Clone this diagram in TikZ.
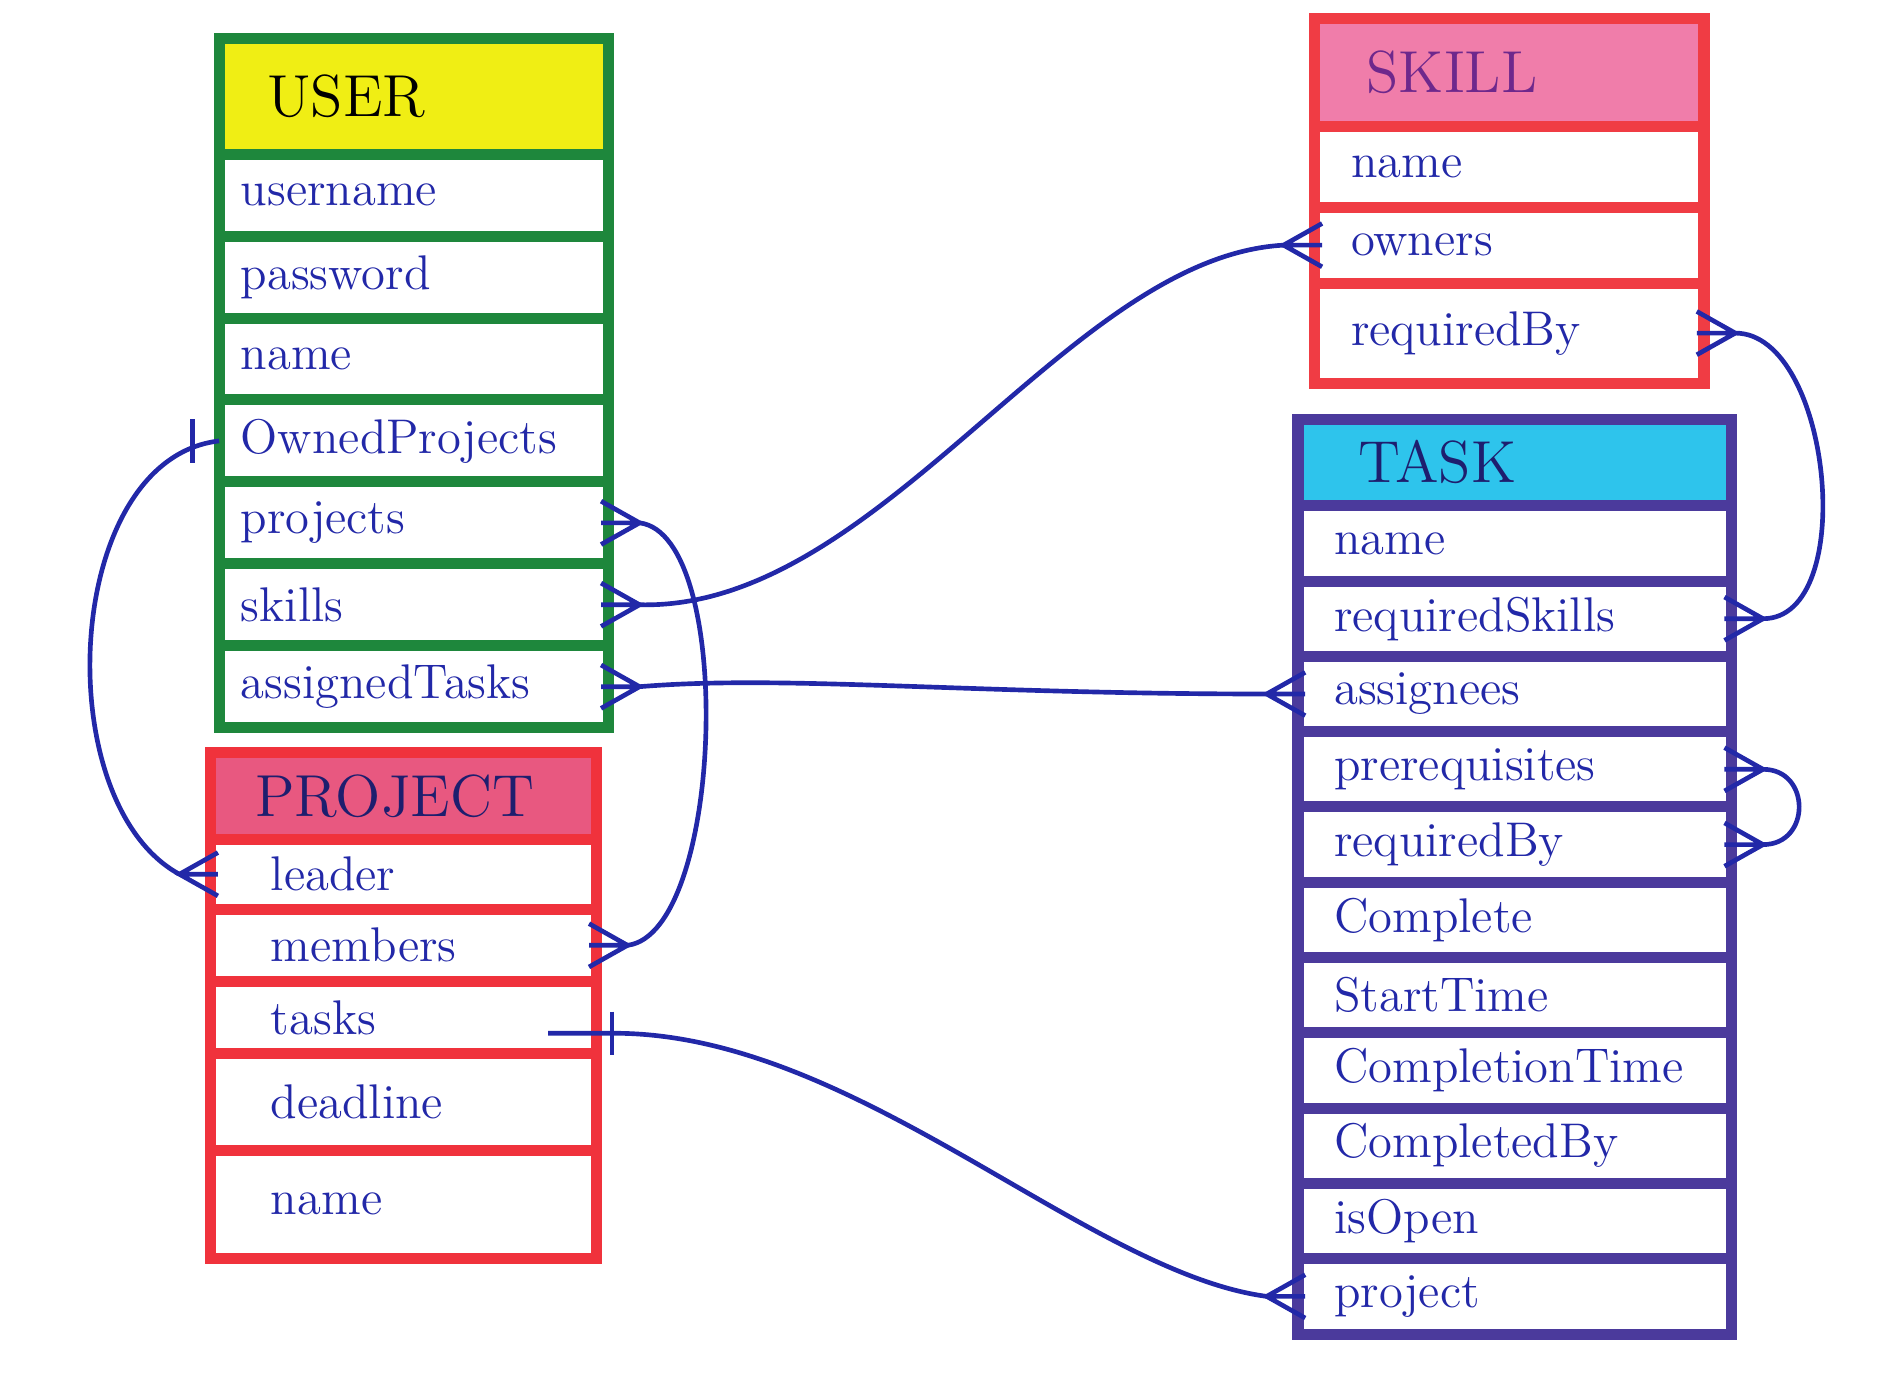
\documentclass[tikz,border=0pt]{standalone}
\usepackage{tikz}
\usetikzlibrary{positioning}

\definecolor{ink}{RGB}{34,40,168}
\definecolor{navy}{RGB}{30,30,110}
\definecolor{usergreen}{RGB}{30,135,60}
\definecolor{useryellow}{RGB}{240,238,20}
\definecolor{projred}{RGB}{240,50,60}
\definecolor{projpink}{RGB}{232,88,128}
\definecolor{skillred}{RGB}{240,60,68}
\definecolor{skillpink}{RGB}{240,125,170}
\definecolor{skillplum}{RGB}{110,40,140}
\definecolor{taskviolet}{RGB}{75,58,156}
\definecolor{taskcyan}{RGB}{46,196,236}

\tikzset{
  link/.style={draw=ink, line width=1.1pt},
  erbox/.style={line width=2.6pt, outer sep=0pt, inner ysep=2pt, align=left, text=ink, font=\fontsize{11.5}{13}\selectfont},
  erhead/.style={erbox, font=\fontsize{14}{16}\selectfont},
  crowE/.pic={\draw[link] (-6,0) -- (26,0) (-6,-18) -- (26,0) -- (-6,18);},
  crowW/.pic={\draw[link] (6,0) -- (-26,0) (6,-18) -- (-26,0) -- (6,18);},
  onebar/.pic={\draw[link] (0,-18) -- (0,18);},
}

\begin{document}
\begin{tikzpicture}[x=0.01cm, y=-0.01cm,
  userhead/.style={erhead, draw=usergreen, fill=useryellow, text=black, minimum height=0.96cm, minimum width=3.23cm, inner xsep=0.4cm, text width=2.43cm},
  userrow/.style={erbox, draw=usergreen, fill=white, minimum height=0.68cm, minimum width=3.23cm, inner xsep=0.18cm, text width=2.87cm},
  projhead/.style={erhead, draw=projred, fill=projpink, text=navy, minimum height=0.72cm, minimum width=3.2cm, inner xsep=0.37cm, text width=2.46cm},
  projrow/.style={erbox, draw=projred, fill=white, minimum width=3.2cm, inner xsep=0.5cm, text width=2.2cm},
  skillhead/.style={erhead, draw=skillred, fill=skillpink, text=skillplum, minimum height=0.9cm, minimum width=3.23cm, inner xsep=0.43cm, text width=2.37cm},
  skillrow/.style={erbox, draw=skillred, fill=white, minimum width=3.23cm, inner xsep=0.3cm, text width=2.63cm},
  taskhead/.style={erhead, draw=taskviolet, fill=taskcyan, text=navy, minimum height=0.72cm, minimum width=3.6cm, inner xsep=0.5cm, text width=2.6cm},
  taskrow/.style={erbox, draw=taskviolet, fill=white, minimum height=0.625cm, minimum width=3.6cm, inner xsep=0.3cm, text width=3cm}]
  \useasboundingbox (0,0) rectangle (1568,1143);

  % USER
  \node[userhead, anchor=north west] (user-head) at (182,32) {USER};
  \node[userrow, below=0pt of user-head] (user-username) {username};
  \node[userrow, below=0pt of user-username] (user-password) {password};
  \node[userrow, below=0pt of user-password] (user-name) {name};
  \node[userrow, below=0pt of user-name] (user-owned) {OwnedProjects};
  \node[userrow, below=0pt of user-owned] (user-projects) {projects};
  \node[userrow, below=0pt of user-projects] (user-skills) {skills};
  \node[userrow, below=0pt of user-skills] (user-assigned) {assignedTasks};

  % PROJECT
  \node[projhead, anchor=north west] (proj-head) at (175,625) {PROJECT};
  \node[projrow, minimum height=0.58cm, below=0pt of proj-head] (proj-leader) {leader};
  \node[projrow, minimum height=0.6cm, below=0pt of proj-leader] (proj-members) {members};
  \node[projrow, minimum height=0.6cm, below=0pt of proj-members] (proj-tasks) {tasks};
  \node[projrow, minimum height=0.8cm, below=0pt of proj-tasks] (proj-deadline) {deadline};
  \node[projrow, minimum height=0.9cm, below=0pt of proj-deadline] (proj-name) {name};

  % SKILL
  \node[skillhead, anchor=north west] (skill-head) at (1092,15) {SKILL};
  \node[skillrow, minimum height=0.67cm, below=0pt of skill-head] (skill-name) {name};
  \node[skillrow, minimum height=0.63cm, below=0pt of skill-name] (skill-owners) {owners};
  \node[skillrow, minimum height=0.83cm, below=0pt of skill-owners] (skill-reqby) {requiredBy};

  % TASK
  \node[taskhead, anchor=north west] (task-head) at (1078,348) {TASK};
  \node[taskrow, below=0pt of task-head] (task-name) {name};
  \node[taskrow, below=0pt of task-name] (task-reqskills) {requiredSkills};
  \node[taskrow, below=0pt of task-reqskills] (task-assignees) {assignees};
  \node[taskrow, below=0pt of task-assignees] (task-prereq) {prerequisites};
  \node[taskrow, below=0pt of task-prereq] (task-reqby) {requiredBy};
  \node[taskrow, below=0pt of task-reqby] (task-complete) {Complete};
  \node[taskrow, below=0pt of task-complete] (task-start) {StartTime};
  \node[taskrow, below=0pt of task-start] (task-ctime) {CompletionTime};
  \node[taskrow, below=0pt of task-ctime] (task-cby) {CompletedBy};
  \node[taskrow, below=0pt of task-cby] (task-open) {isOpen};
  \node[taskrow, below=0pt of task-open] (task-project) {project};

  % relations
  \draw[link] (user-owned.west) .. controls +(-130,15) and +(-110,-60) .. ([xshift=-0.26cm]proj-leader.west);
  \pic at ([xshift=-0.22cm]user-owned.west) {onebar};
  \pic at (proj-leader.west) {crowW};

  \draw[link] ([xshift=0.26cm]user-projects.east) .. controls +(80,10) and +(80,-10) .. ([xshift=0.26cm]proj-members.east);
  \pic at (user-projects.east) {crowE};
  \pic at (proj-members.east) {crowE};

  \draw[link] ([xshift=0.26cm]user-skills.east) .. controls +(200,5) and +(-180,10) .. ([xshift=-0.26cm]skill-owners.west);
  \pic at (user-skills.east) {crowE};
  \pic at (skill-owners.west) {crowW};

  \draw[link] ([xshift=0.26cm]user-assigned.east) .. controls +(120,-10) and +(-250,0) .. ([xshift=-0.26cm]task-assignees.west);
  \pic at (user-assigned.east) {crowE};
  \pic at (task-assignees.west) {crowW};

  \draw[link] ([xshift=0.26cm]skill-reqby.east) .. controls +(80,0) and +(80,0) .. ([xshift=0.26cm]task-reqskills.east);
  \pic at (skill-reqby.east) {crowE};
  \pic at (task-reqskills.east) {crowE};

  \draw[link] ([xshift=0.26cm]task-prereq.east) .. controls +(40,0) and +(40,0) .. ([xshift=0.26cm]task-reqby.east);
  \pic at (task-prereq.east) {crowE};
  \pic at (task-reqby.east) {crowE};

  \draw[link] ([xshift=-0.4cm,yshift=-0.13cm]proj-tasks.east) -- ([xshift=0.15cm,yshift=-0.13cm]proj-tasks.east)
    .. controls +(200,0) and +(-150,-20) .. ([xshift=-0.26cm]task-project.west);
  \pic at ([xshift=0.13cm,yshift=-0.13cm]proj-tasks.east) {onebar};
  \pic at (task-project.west) {crowW};
\end{tikzpicture}
\end{document}
